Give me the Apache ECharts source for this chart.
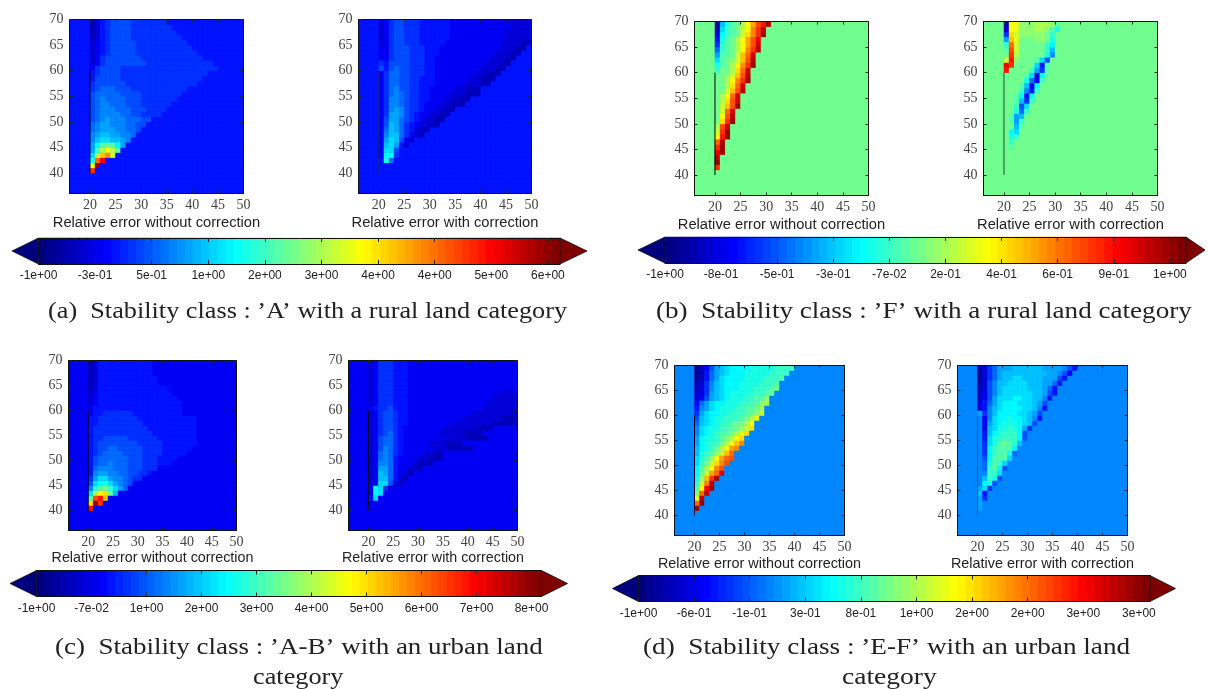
<!DOCTYPE html>
<html><head><meta charset="utf-8">
<style>html,body{margin:0;padding:0;background:#fff}#c{width:1208px;height:689px}</style>
<script src="https://cdn.jsdelivr.net/npm/echarts@6/dist/echarts.min.js"></script>
</head><body><div id="c"></div>
<script>
// Colour levels: base-36 digit per 1x1 cell, 0..z = jet colormap position.
// Rows run from y=69..70 down to y=40..41; columns start at x=20..21; a short row continues in the background level.
const aRuralWithout=["235677776666666","2356777766666666","23567777666666666","235677776666666666","3456777776666666666","34567777766666666666","345677777666666666666","3467777777666666666666","346777777776666666666666","4677776666666666666666666","56777766666666666666666","5777776666666666666666","677777766666666666666","6788877766666666666","788888777766666666","78988887776666666","7899888777666666","789998887776666","78999988776666","789a99988877","89aa9998877","89aaa99887","9abbaa998","9bccbba9","adghgda","afjmkg","cjoqk","erv","ly","t"];
const aRuralWith=["346776665555554444444444443333","346776665555554444444444443333","346776665555554444444444433333","346776665555554444444444433333","346776665555544444444444333322","44677766655544444444444433322","4467776665554444444444433322","446777666554444444444433322","65777766655444444444433322","7578776665544444444433322","468877666554444444433222","46887766555444444433222","4688776655544444433322","46897766554444433222","46898766554444333222","469987665544433222","46998766544433222","469a97665443322","46aa9765443322","47aa876543322","47ba86543322","48ba865332","49bb86432","4acb743","4bca53","4cc7","4dd6","5e8"];
const fRuralWithout=["1beghjmpsux","2cfghkmqtx","3dfghknqty","5eghjmpsv","6fghjmpsw","8fghjmqtx","agghkorw","cghikosx","eghjmqty","fhhjnrw","hhikosx","hhjmqty","hhjnrw","hhkosx","hjmrw","hjnsw","hkosy","hkrw","hmsx","hnty","jsw","kty","muy","rx","ty","vy","x","y","t"];
const fRuralWith=["2mliiijjjig","3mliiijjige","6nkiiiiihf","aolhhhiihe","frkhhhhhfd","gskhhhhhfb","htjhhhhhe9","kuihhhgc7","vthhhhc5g","uhhhhfa6g","hhhhgc3d","hhhhe83f","hhhgb4d","hhhf95f","hhgd5d","hhgb6f","hhf7c","hhe8f","hgab","hgaf","hhbg","hdc","hef","hf","hg"];
const abUrbanWithout=["2355555555555","2355555555555","2355555555555","23555555555555","23555555555555","2355555555555555","34555555555555555","345555555555555555","3455555555555555555","4555555555555555555","4556666665555555555","5566666666555555555555","5566666666655555555555","5666666666665555555555","5666666666666555555555","5667777766666655555555","5677777777666665555555","567788777776666555555","56788887777666655555","578888887776665555","57889888777666555","58999888777666","59aa998877665","6acca998766","7cdeca987","9eghfca8","cjmnhb","gsuo","nyt","u"];
const abUrbanWith=["346665554","346665554","346665554","346665554","346665554","346665554","346665554444444444444444443333","346665554444444444444444433333","346665554444444444444444333333","456675554444444444444443333333","346776554444444444444333333332","346776554444444444433333333222","346776554444444443333333322222","3467765444444443333333222","34678654444444333332222","347886544444444333332222","3478865444443333222","347986544444433322222","348986544443322","348985444433222","3499854443222","34aa8544322","34ba85432","34bb8532","34cc742","4dc63","4dc","5c","4"];
const efUrbanWithout=["1247abcddddeeeeeffff","1258abcdddeeeeeffff","1258acddddeeeefffg","2369bcdddeeeefffg","2369bcdddeeefffgh","336abcdeeeefffgh","347abcdeeeffggi","48acddeeeffggij","59acdeeeffgghj","6acddeefffghik","7bcdeefffghjl","8bcdeffghhjm","9cdeefgghikn","9cdefgghjln","adeefgijmn","adeffhjmoq","bdefhjmpq","befgikor","cegimprs","cfhknqs","dgjmqs","dhkprw","eioty","fkqx","gmvy","irx","lx","ry","y"];
const efUrbanWith=["1368aaabbbbbbaaaa975","1368abbbbbbbbbaa974","1368abbccbbbbaaa75","1379bbccccbbbaa85","2379bcccccbbba85","2479bccccccbba75","247acccddccbb95","358acdddcccba7","359bcddddccb95","a69bddddccba7","949cddeddcb95","94acdeeedcb7","94bceefeda6","95bdefffd7","95ceffffd7","96ceghgfb","96dfgggd","96dfgge8","97dgggc","98egfc","98fgd7","99ffc","9bfe7","9de7","ac6","b5","a6","a","a"];
const panelBackground={a:5,b:17,c:4,d:9};
const panelFill={a:'#0012ff',b:'#71ff8e',c:'#0000f4',d:'#0087ff'};
const seamLine=[['20','40'],['20','60']];
const xTickCats=['16','17','18','19','20','21','22','23','24','25','26','27','28','29','30','31','32','33','34','35','36','37','38','39','40','41','42','43','44','45','46','47','48','49','50'];
const yTickCats=['36','37','38','39','40','41','42','43','44','45','46','47','48','49','50','51','52','53','54','55','56','57','58','59','60','61','62','63','64','65','66','67','68','69','70'];
const barLabelsA=['-1e+00','-3e-01','5e-01','1e+00','2e+00','3e+00','4e+00','4e+00','5e+00','6e+00'];
const barLabelsB=['-1e+00','-8e-01','-5e-01','-3e-01','-7e-02','2e-01','4e-01','6e-01','9e-01','1e+00'];
const barLabelsC=['-1e+00','-7e-02','1e+00','2e+00','3e+00','4e+00','5e+00','6e+00','7e+00','8e+00'];
const barLabelsD=['-1e+00','-6e-01','-1e-01','3e-01','8e-01','1e+00','2e+00','2e+00','3e+00','3e+00'];
const barLevels=[0,.6,1.1,1.7,2.2,2.8,3.3,3.9,4.4,5,5.6,6.1,6.7,7.2,7.8,8.3,8.9,9.4,10,10.6,11.1,11.7,12.2,12.8,13.3,13.9,14.4,15,15.6,16.1,16.7,17.2,17.8,18.3,18.9,19.4,20,20.6,21.1,21.7,22.2,22.8,23.3,23.9,24.4,25,25.6,26.1,26.7,27.2,27.8,28.3,28.9,29.4,30,30.6,31.1,31.7,32.2,32.8,33.3,33.9,34.4,35];
const jet=['#00007f','#0000ff','#007fff','#00ffff','#7fff7f','#ffff00','#ff7f00','#ff0000','#7f0000'];
const panels=[
 {rows:aRuralWithout,bg:panelBackground.a,fill:panelFill.a,l:69.5,t:19.5,w:174,h:174,name:'Relative error without correction',seam:'#000000',fs:14.7,gap:22},
 {rows:aRuralWith,bg:panelBackground.a,fill:panelFill.a,l:358.5,t:19.5,w:173,h:174,name:'Relative error with correction',seam:'#1a2a70',fs:14.7,gap:22},
 {rows:fRuralWithout,bg:panelBackground.b,fill:panelFill.b,l:694.5,t:21.5,w:174,h:174,name:'Relative error without correction',seam:'#000000',fs:14.7,gap:22},
 {rows:fRuralWith,bg:panelBackground.b,fill:panelFill.b,l:983.5,t:21.5,w:174,h:174,name:'Relative error with correction',seam:'#2a4a40',fs:14.7,gap:22},
 {rows:abUrbanWithout,bg:panelBackground.c,fill:panelFill.c,l:68.5,t:360.5,w:168,h:170,name:'Relative error without correction',seam:'#000020',fs:14.3,gap:21},
 {rows:abUrbanWith,bg:panelBackground.c,fill:panelFill.c,l:348.5,t:360.5,w:169,h:170,name:'Relative error with correction',seam:'#00001a',fs:14.3,gap:21},
 {rows:efUrbanWithout,bg:panelBackground.d,fill:panelFill.d,l:674.5,t:365.5,w:170,h:170,name:'Relative error without correction',seam:'#000020',fs:14.4,gap:22},
 {rows:efUrbanWith,bg:panelBackground.d,fill:panelFill.d,l:957.5,t:365.5,w:170,h:170,name:'Relative error with correction',seam:'#2a4a60',fs:14.4,gap:22}
];
const bars=[
 {labels:barLabelsA,l:38.5,r:560,t:238,b:264,tip:12,end:587,step:56.6},
 {labels:barLabelsB,l:665,r:1186,t:237,b:263,tip:638,end:1205,step:56.1},
 {labels:barLabelsC,l:36.5,r:541.5,t:570.5,b:596.5,tip:10,end:567.5,step:55},
 {labels:barLabelsD,l:638.5,r:1150,t:575.5,b:601.5,tip:612.5,end:1175.5,step:55.6}
];
const xCells=xTickCats.slice(0,34), yCells=yTickCats.slice(0,34);
const digit=ch=>parseInt(ch,36);
function cells(rows,bg){
  const out=[];
  for(let yi=0;yi<34;yi++)for(let xi=0;xi<34;xi++){
    const row=rows[33-yi], c=xi-4;
    const ch=row&&c>=0&&c<row.length?row[c]:null;
    out.push([xi,yi,ch===null?bg:digit(ch)]);
  }
  return out;
}
const grid=[],xAxis=[],yAxis=[],series=[];
const frame={show:true,lineStyle:{color:'#111',width:1}};
const is5=(i,v)=>+v%5===0;
const flat={borderWidth:0,opacity:1};
panels.forEach((p,g)=>{
  grid.push({left:p.l,top:p.t,width:p.w,height:p.h,show:true,borderWidth:0,backgroundColor:p.fill});
  const cat0=xAxis.length;
  xAxis.push({type:'category',gridIndex:g,data:xCells,show:false});
  yAxis.push({type:'category',gridIndex:g,data:yCells,show:false});
  const tick={show:true,inside:true,length:3,interval:is5,lineStyle:{color:'#222',width:1}};
  xAxis.push({type:'category',gridIndex:g,data:xTickCats,boundaryGap:false,position:'bottom',z:5,axisLine:frame,axisTick:tick,
    axisLabel:{interval:is5,color:'#444',fontFamily:'Liberation Serif',fontSize:14,margin:5,hideOverlap:false},
    name:p.name,nameLocation:'middle',nameGap:p.gap,nameTextStyle:{color:'#222',fontFamily:'Liberation Sans',fontSize:p.fs}});
  yAxis.push({type:'category',gridIndex:g,data:yTickCats,boundaryGap:false,position:'left',z:5,axisLine:frame,axisTick:tick,
    axisLabel:{interval:is5,color:'#444',fontFamily:'Liberation Serif',fontSize:14,margin:6,hideOverlap:false}});
  xAxis.push({type:'category',gridIndex:g,data:xTickCats,boundaryGap:false,position:'top',z:5,axisLine:frame,axisTick:tick,axisLabel:{show:false}});
  yAxis.push({type:'category',gridIndex:g,data:yTickCats,boundaryGap:false,position:'right',z:5,axisLine:frame,axisTick:tick,axisLabel:{show:false}});
  series.push({type:'heatmap',xAxisIndex:cat0,yAxisIndex:cat0,data:cells(p.rows,p.bg),silent:true,progressive:0,itemStyle:flat,emphasis:{disabled:true}});
  series.push({type:'line',xAxisIndex:cat0+1,yAxisIndex:cat0+1,data:seamLine,symbol:'none',z:4,silent:true,lineStyle:{color:p.seam,width:1}});
});
const heatIdx=[];
series.forEach((s,i)=>{if(s.type==='heatmap')heatIdx.push(i);});
const jetGradient={type:'linear',x:0,y:0,x2:1,y2:0,colorStops:jet.map((color,i)=>({offset:i/(jet.length-1),color}))};
bars.forEach(b=>{
  const g=grid.length, base=xAxis.length;
  grid.push({left:b.l,top:b.t,width:b.r-b.l,height:b.b-b.t,show:true,borderWidth:0,backgroundColor:jetGradient});
  const maxV=(b.r-b.l)/b.step;
  xAxis.push({type:'category',gridIndex:g,data:barLevels.map((_,i)=>String(i)),show:false});
  yAxis.push({type:'category',gridIndex:g,data:['0'],show:false});
  const tick={show:true,inside:true,length:4,lineStyle:{color:'#222',width:1}};
  xAxis.push({type:'value',gridIndex:g,min:0,max:maxV,interval:1,position:'bottom',z:5,splitLine:{show:false},axisLine:frame,axisTick:tick,
    axisLabel:{color:'#222',fontFamily:'Liberation Sans',fontSize:12,margin:6,hideOverlap:false,showMaxLabel:false,showMinLabel:true,formatter:v=>Number.isInteger(v)&&b.labels[v]?b.labels[v]:''}});
  yAxis.push({type:'value',gridIndex:g,min:0,max:1,show:false});
  xAxis.push({type:'value',gridIndex:g,min:0,max:maxV,interval:1,position:'top',z:5,splitLine:{show:false},axisLine:frame,axisTick:tick,axisLabel:{show:false}});
  series.push({type:'heatmap',xAxisIndex:base,yAxisIndex:yAxis.length-2,data:barLevels.map((v,i)=>[i,0,v]),silent:true,progressive:0,itemStyle:flat,emphasis:{disabled:true}});
  heatIdx.push(series.length-1);
  const tipL=(b.tip-b.l)/b.step, tipR=(b.end-b.l)/b.step;
  series.push({type:'custom',xAxisIndex:base+1,yAxisIndex:yAxis.length-1,silent:true,z:3,clip:false,
    data:[[tipL,0],[tipR,maxV]],
    renderItem:(params,api)=>{
      const tipX=api.value(0), baseX=api.value(1);
      const col=params.dataIndex===0?'#00007f':'#7f0000';
      return {type:'polygon',shape:{points:[api.coord([tipX,.5]),api.coord([baseX,1]),api.coord([baseX,0])]},style:{fill:col,stroke:'#111',lineWidth:.8}};
    }});
});
const cap=(text,x,y,scaleX)=>({type:'text',x,y,scaleX,silent:true,style:{text,x:0,y:0,verticalAlign:'middle',align:'left',font:'24px "Liberation Serif"',fill:'#222'}});
const captions=[
 cap("(a)  Stability class : ’A’ with a rural land category",48,312,1.094),
 cap("(b)  Stability class : ’F’ with a rural land category",656,312,1.129),
 cap("(c)  Stability class : ’A-B’ with an urban land",55,648,1.124),
 cap("category",253,678,1.095),
 cap("(d)  Stability class : ’E-F’ with an urban land",643,648,1.133),
 cap("category",842,678,1.146)
];
const chart=echarts.init(document.getElementById('c'),null,{renderer:'canvas'});
chart.setOption({animation:false,backgroundColor:'#fff',grid,xAxis,yAxis,series,graphic:{elements:captions},
  visualMap:{type:'continuous',show:false,min:0,max:35,seriesIndex:heatIdx,inRange:{color:jet}}});
</script></body></html>
